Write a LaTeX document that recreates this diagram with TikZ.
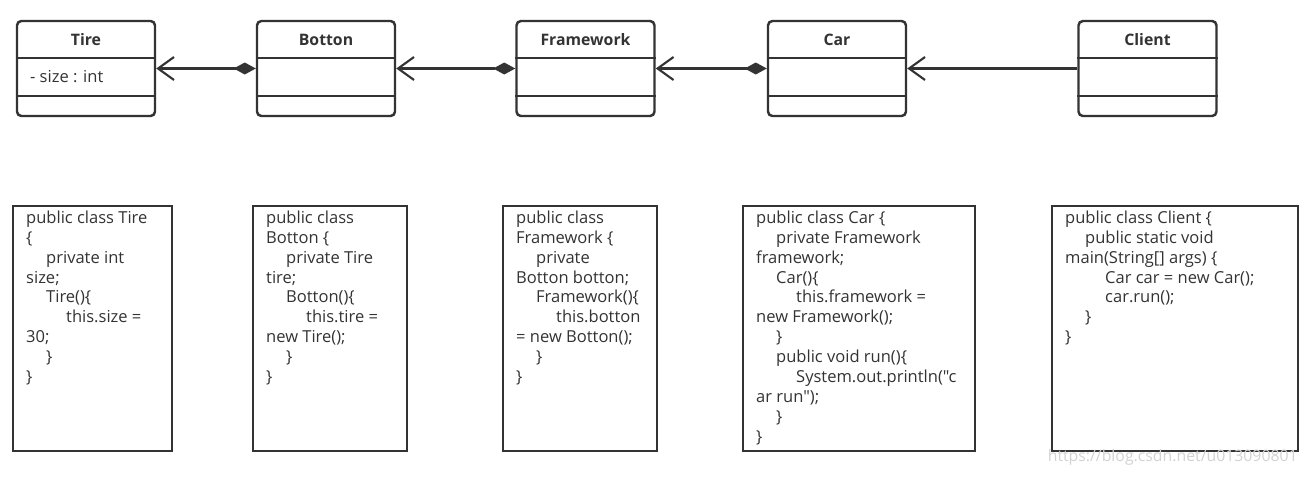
\documentclass[tikz,border=0pt]{standalone}
\usepackage{fontspec}
\setmainfont{Open Sans}[Ligatures=TeXOff]
\usetikzlibrary{arrows.meta,positioning}
\definecolor{ink}{HTML}{333333}
\newcommand{\codeindent}{\hspace*{0.4cm}}

\begin{document}
\begin{tikzpicture}[
  cls/.style={rectangle,draw=ink,line width=1.4pt,rounded corners=2.5pt,
              minimum width=2.76cm,minimum height=1.90cm,inner sep=0pt},
  clsname/.style={font=\fontsize{9}{11}\selectfont\bfseries,text=ink},
  attr/.style={font=\fontsize{9.4}{11}\selectfont,text=ink,anchor=west,inner sep=0pt},
  div/.style={draw=ink,line width=1.4pt},
  code/.style={rectangle,draw=ink,line width=1.3pt,minimum height=4.90cm,inner sep=0pt},
  codetxt/.style={anchor=north west,align=left,inner sep=0pt,text=ink,
                  font=\fontsize{9.4}{11.34}\selectfont},
  comp/.style={ink,line width=1.2pt,
               {Diamond[length=0.44cm,width=0.24cm]}-{Straight Barb[length=0.32cm,width=0.46cm]}},
  uses/.style={ink,line width=1.2pt,-{Straight Barb[length=0.32cm,width=0.46cm]}}
]
\useasboundingbox (0,0) rectangle (26.26,-9.52);

% class boxes
\node[cls] (tire) at (1.72,-1.37) {};
\node[cls] (botton) at (6.52,-1.37) {};
\node[cls] (framework) at (11.71,-1.37) {};
\node[cls] (car) at (16.74,-1.37) {};
\node[cls] (client) at (22.95,-1.37) {};

\node[clsname] (tirename) at ([yshift=-0.40cm]tire.north) {Tire};
\node[clsname] (bottonname) at ([yshift=-0.40cm]botton.north) {Botton};
\node[clsname] (frameworkname) at ([yshift=-0.40cm]framework.north) {Framework};
\node[clsname] (carname) at ([yshift=-0.40cm]car.north) {Car};
\node[clsname] (clientname) at ([yshift=-0.40cm]client.north) {Client};

\node[attr] (tiresize) at ([xshift=0.28cm,yshift=-1.14cm]tire.north west) {- size : int};

\draw[div] ([yshift=-0.76cm]tire.north west) -- ([yshift=-0.76cm]tire.north east);
\draw[div] ([yshift=-1.52cm]tire.north west) -- ([yshift=-1.52cm]tire.north east);
\draw[div] ([yshift=-0.76cm]botton.north west) -- ([yshift=-0.76cm]botton.north east);
\draw[div] ([yshift=-1.52cm]botton.north west) -- ([yshift=-1.52cm]botton.north east);
\draw[div] ([yshift=-0.76cm]framework.north west) -- ([yshift=-0.76cm]framework.north east);
\draw[div] ([yshift=-1.52cm]framework.north west) -- ([yshift=-1.52cm]framework.north east);
\draw[div] ([yshift=-0.76cm]car.north west) -- ([yshift=-0.76cm]car.north east);
\draw[div] ([yshift=-1.52cm]car.north west) -- ([yshift=-1.52cm]car.north east);
\draw[div] ([yshift=-0.76cm]client.north west) -- ([yshift=-0.76cm]client.north east);
\draw[div] ([yshift=-1.52cm]client.north west) -- ([yshift=-1.52cm]client.north east);

% associations
\draw[comp] (botton.west) -- (tire.east);
\draw[comp] (framework.west) -- (botton.east);
\draw[comp] (car.west) -- (framework.east);
\draw[uses] (client.west) -- (car.east);

% code boxes
\node[code,minimum width=3.18cm] (tirecode) at (1.85,-6.57) {};
\node[code,minimum width=3.08cm] (bottoncode) at (6.60,-6.57) {};
\node[code,minimum width=3.08cm] (frameworkcode) at (11.60,-6.57) {};
\node[code,minimum width=4.64cm] (carcode) at (17.18,-6.57) {};
\node[code,minimum width=4.92cm] (clientcode) at (23.50,-6.57) {};

\node[codetxt] (tiretxt) at ([xshift=0.28cm,yshift=-0.11cm]tirecode.north west)
  {public class Tire\\ \{\\ \codeindent private int\\ size;\\ \codeindent Tire()\{\\
   \codeindent\codeindent this.size =\\ 30;\\ \codeindent \}\\ \}};
\node[codetxt] (bottontxt) at ([xshift=0.28cm,yshift=-0.11cm]bottoncode.north west)
  {public class\\ Botton \{\\ \codeindent private Tire\\ tire;\\ \codeindent Botton()\{\\
   \codeindent\codeindent this.tire =\\ new Tire();\\ \codeindent \}\\ \}};
\node[codetxt] (frameworktxt) at ([xshift=0.28cm,yshift=-0.11cm]frameworkcode.north west)
  {public class\\ Framework \{\\ \codeindent private\\ Botton botton;\\ \codeindent Framework()\{\\
   \codeindent\codeindent this.botton\\ = new Botton();\\ \codeindent \}\\ \}};
\node[codetxt] (cartxt) at ([xshift=0.28cm,yshift=-0.11cm]carcode.north west)
  {public class Car \{\\ \codeindent private Framework\\ framework;\\ \codeindent Car()\{\\
   \codeindent\codeindent this.framework =\\ new Framework();\\ \codeindent \}\\
   \codeindent public void run()\{\\ \codeindent\codeindent System.out.println("c\\
   ar run");\\ \codeindent \}\\ \}};
\node[codetxt] (clienttxt) at ([xshift=0.28cm,yshift=-0.11cm]clientcode.north west)
  {public class Client \{\\ \codeindent public static void\\ main(String[] args) \{\\
   \codeindent\codeindent Car car = new Car();\\ \codeindent\codeindent car.run();\\
   \codeindent \}\\ \}};

\node[font=\fontsize{9}{10}\selectfont,text=gray!35,anchor=base east,inner sep=0pt]
  (mark) at (25.96,-9.22) {https://blog.csdn.net/u013090801};
\end{tikzpicture}
\end{document}
